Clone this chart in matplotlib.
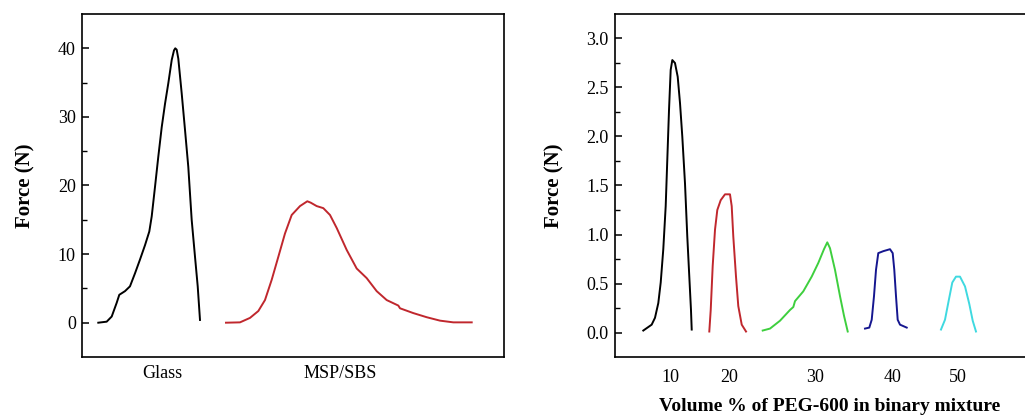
import matplotlib
matplotlib.use("Agg")
import matplotlib.pyplot as plt
from matplotlib.ticker import FixedLocator

plt.rcParams['font.family'] = ['Liberation Serif', 'DejaVu Serif']

# ---- Left panel: detachment force on glass vs. MSP/SBS ----
glass_x = [3.86, 5.85, 7.04, 8.22, 8.84, 10.19, 11.37, 12.56, 13.74, 14.93, 15.95,
           16.52, 17.30, 18.08, 18.89, 19.67, 20.45, 21.26, 21.80, 22.10, 22.44, 22.82,
           23.63, 24.41, 25.19, 25.99, 26.78, 27.42, 27.96]
glass_f = [0.0, 0.15, 0.9, 2.9, 4.07, 4.6, 5.3, 7.2, 9.2, 11.3, 13.3,
           15.5, 19.8, 24.2, 28.5, 31.9, 34.9, 38.3, 39.7, 40.0, 39.8, 38.5,
           33.4, 28.1, 22.7, 15.0, 9.6, 5.3, 0.4]

msp_x = [34.12, 37.44, 39.81, 41.78, 43.36, 44.95, 46.52, 48.10, 49.69, 51.66,
         53.39, 54.19, 55.61, 57.18, 58.77, 60.36, 62.73, 65.09, 67.46, 69.83,
         72.20, 74.95, 75.36, 78.51, 81.68, 84.83, 87.99, 92.35]
msp_f = [0.0, 0.05, 0.7, 1.7, 3.3, 6.25, 9.6, 13.0, 15.7, 17.0,
         17.7, 17.5, 17.0, 16.7, 15.7, 13.8, 10.6, 7.9, 6.5, 4.6,
         3.3, 2.5, 2.1, 1.4, 0.8, 0.3, 0.05, 0.05]

left_labels = ['Glass', 'MSP/SBS']
left_label_pos = [18.96, 61.1]

# ---- Right panel: force vs. PEG-600 content ----
peg10_x = [6.58, 8.53, 9.30, 10.07, 10.63, 11.23, 11.79, 12.16, 12.56, 12.95,
           13.33, 13.95, 14.58, 15.12, 15.65, 16.28, 16.81, 17.28, 17.67, 17.84]
peg10_f = [0.02, 0.08, 0.15, 0.30, 0.51, 0.85, 1.29, 1.76, 2.27, 2.68,
           2.78, 2.75, 2.61, 2.34, 2.00, 1.52, 0.98, 0.57, 0.23, 0.03]

peg20_x = [21.93, 22.26, 22.72, 23.26, 23.79, 24.58, 25.58, 26.74, 27.14, 27.51,
           28.14, 28.67, 29.47, 30.47]
peg20_f = [0.01, 0.23, 0.68, 1.05, 1.25, 1.35, 1.41, 1.41, 1.29, 0.98,
           0.57, 0.27, 0.08, 0.01]

peg30_x = [34.35, 36.05, 38.37, 40.70, 41.47, 41.86, 43.79, 45.74, 47.28, 48.60,
           49.37, 50.00, 51.16, 52.33, 53.26, 54.12]
peg30_f = [0.02, 0.04, 0.12, 0.23, 0.26, 0.32, 0.42, 0.57, 0.71, 0.85,
           0.92, 0.86, 0.64, 0.37, 0.17, 0.01]

peg40_x = [58.14, 59.14, 59.70, 60.23, 60.70, 61.23, 62.40, 63.95, 64.58, 64.95,
           65.35, 65.74, 66.28, 67.84]
peg40_f = [0.04, 0.05, 0.13, 0.37, 0.64, 0.81, 0.83, 0.85, 0.81, 0.64,
           0.37, 0.13, 0.08, 0.05]

peg50_x = [75.81, 76.74, 77.67, 78.44, 79.30, 80.23, 81.40, 82.40, 83.19, 83.95]
peg50_f = [0.03, 0.13, 0.34, 0.51, 0.57, 0.57, 0.47, 0.29, 0.12, 0.01]

right_labels = ['10', '20', '30', '40', '50']
right_label_pos = [12.79, 26.51, 46.51, 64.65, 79.77]

fig = plt.figure(figsize=(10.25, 4.15), dpi=100)

W, H = 1025.0, 415.0
axL = fig.add_axes([82 / W, 1 - 357 / H, 422 / W, 343 / H])
axR = fig.add_axes([615 / W, 1 - 357 / H, 430 / W, 343 / H])

lw = 1.4
axL.plot(glass_x, glass_f, color='black', lw=lw)
axL.plot(msp_x, msp_f, color='#c0272d', lw=lw)

axR.plot(peg10_x, peg10_f, color='black', lw=lw)
axR.plot(peg20_x, peg20_f, color='#c0272d', lw=lw)
axR.plot(peg30_x, peg30_f, color='#3ecf3e', lw=lw)
axR.plot(peg40_x, peg40_f, color='#15168f', lw=lw)
axR.plot(peg50_x, peg50_f, color='#3fd9e0', lw=lw)

for ax in (axL, axR):
    ax.set_xlim(0, 100)
    for s in ax.spines.values():
        s.set_linewidth(1.2)
    ax.tick_params(axis='y', direction='in', length=5, width=1.1, pad=4.5,
                   labelsize=13, right=False)
    ax.tick_params(axis='y', which='minor', direction='in', length=3.5, width=1.0,
                   right=False)
    ax.set_ylabel('Force (N)', fontsize=15, fontweight='bold', labelpad=16)

axL.set_ylim(-5, 45)
axL.set_yticks([0, 10, 20, 30, 40])
axL.yaxis.set_minor_locator(FixedLocator([5, 15, 25, 35]))
axL.set_xticks(left_label_pos)
axL.set_xticklabels(left_labels)
axL.tick_params(axis='x', length=0, pad=5.5, labelsize=13)

axR.set_ylim(-0.25, 3.25)
axR.set_yticks([0.0, 0.5, 1.0, 1.5, 2.0, 2.5, 3.0])
axR.set_yticklabels(['0.0', '0.5', '1.0', '1.5', '2.0', '2.5', '3.0'])
axR.yaxis.set_minor_locator(FixedLocator([0.25, 0.75, 1.25, 1.75, 2.25, 2.75]))
axR.set_xticks(right_label_pos)
axR.set_xticklabels(right_labels)
axR.tick_params(axis='x', length=0, pad=8.5, labelsize=13)
axR.set_xlabel('Volume % of PEG-600 in binary mixture', fontsize=14,
               fontweight='bold', labelpad=9)

fig.savefig('out.png', dpi=100)
